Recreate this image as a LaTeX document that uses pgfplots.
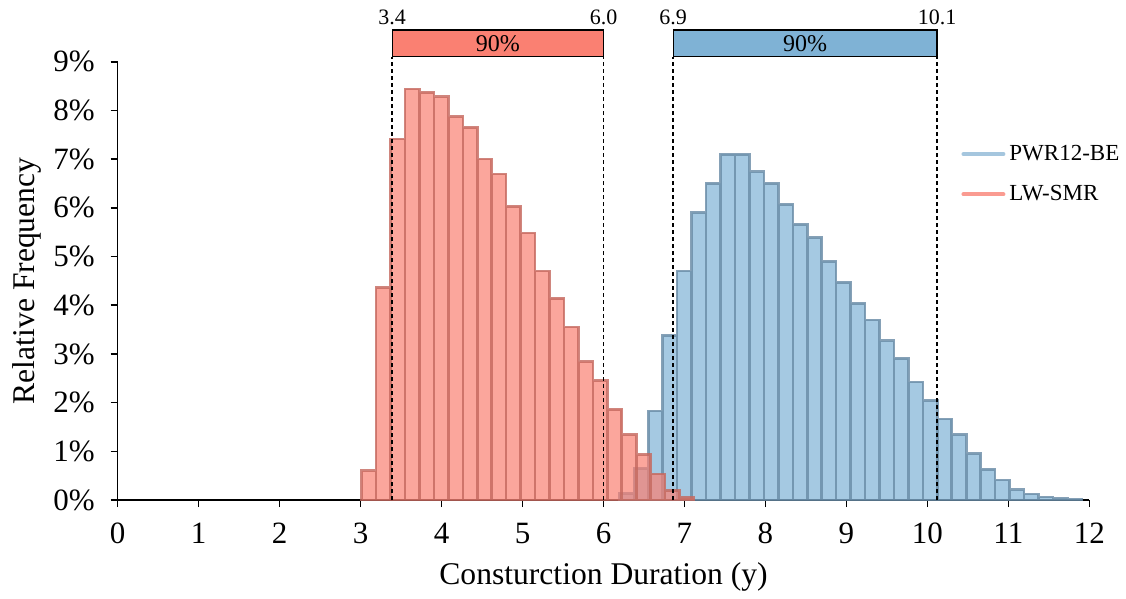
\documentclass[border=0pt]{standalone}
\usepackage{fontspec}
\setmainfont{Liberation Serif}
\usepackage{pgfplots}
\pgfplotsset{compat=1.18}
\definecolor{redfill}{RGB}{250,128,114}
\definecolor{rededge}{RGB}{196,104,94}
\definecolor{bluefill}{RGB}{127,178,213}
\definecolor{blueedge}{RGB}{104,138,165}
\definecolor{redleg}{RGB}{250,155,145}
\definecolor{blueleg}{RGB}{165,198,222}
\begin{document}
\begin{tikzpicture}
\begin{axis}[name=ax, scale only axis, width=485.8pt, height=219.15pt,
  xmin=0, xmax=12, ymin=0, ymax=9,
  axis x line*=bottom, axis y line*=left,
  axis line style={-, line width=0.8pt},
  xtick={0,1,2,3,4,5,6,7,8,9,10,11,12},
  xticklabels={0,1,2,3,4,5,6,7,8,9,10,11,12},
  ytick={0,1,2,3,4,5,6,7,8,9},
  yticklabels={0\%,1\%,2\%,3\%,4\%,5\%,6\%,7\%,8\%,9\%},
  tick align=outside, major tick length=3.5pt,
  tick style={black, line width=0.8pt},
  ticklabel style={font=\fontsize{15.5}{15.5}\selectfont},
  xticklabel style={yshift=-4.5pt},
  yticklabel style={xshift=-4.5pt},
  xlabel={Consturction Duration (y)}, ylabel={Relative Frequency},
  label style={font=\fontsize{15.8}{15.8}\selectfont},
  x label style={at={(axis description cs:0.5,-0.1757)}, anchor=center},
  y label style={at={(axis description cs:-0.0934,0.5)}, anchor=center},
  clip=false,
  legend style={at={(0.868,0.82)}, anchor=north west, draw=none, fill=none,
    font=\fontsize{11.5}{11.5}\selectfont, row sep=7pt, inner sep=0pt},
  legend cell align=left,
  legend image code/.code={\draw[#1, line width=2pt, line cap=round] (0pt,0pt) -- (20pt,0pt);},
]
\addplot[ybar interval, fill=bluefill, fill opacity=0.7, draw=blueedge, draw opacity=0.8, line width=1.3pt, forget plot] coordinates {
(6.196,0.13) (6.3745,0.65) (6.553,1.83) (6.7315,3.38) (6.910,4.70) (7.0885,5.90)
(7.267,6.50) (7.4455,7.10) (7.624,7.10) (7.8025,6.74) (7.981,6.50) (8.1595,6.07)
(8.338,5.66) (8.5165,5.39) (8.695,4.90) (8.8735,4.47) (9.052,4.04) (9.2305,3.70)
(9.409,3.27) (9.5875,2.91) (9.766,2.42) (9.9445,2.04) (10.123,1.66) (10.3015,1.34)
(10.480,0.95) (10.6585,0.63) (10.837,0.41) (11.0155,0.21) (11.194,0.12) (11.3725,0.06)
(11.551,0.035) (11.7295,0.02) (11.908,0)};
\addplot[ybar interval, fill=redfill, fill opacity=0.7, draw=rededge, draw opacity=0.8, line width=1.3pt, forget plot] coordinates {
(3.013,0.60) (3.1915,4.36) (3.370,7.41) (3.5485,8.44) (3.727,8.37) (3.9055,8.28)
(4.084,7.87) (4.2625,7.65) (4.441,7.00) (4.6195,6.69) (4.798,6.03) (4.9765,5.48)
(5.155,4.70) (5.3335,4.14) (5.512,3.55) (5.6905,2.84) (5.869,2.45) (6.0475,1.86)
(6.226,1.34) (6.4045,0.93) (6.583,0.53) (6.7615,0.19) (6.940,0.05) (7.1185,0)};
\addlegendimage{draw=blueleg}
\addlegendentry{PWR12-BE}
\addlegendimage{draw=redleg}
\addlegendentry{LW-SMR}
% 90% interval markers
\draw[dash pattern=on 2pt off 1.5pt, line width=0.9pt] (axis cs:3.39,0) -- (axis cs:3.39,9.1);
\draw[dash pattern=on 2pt off 1.5pt, line width=0.9pt] (axis cs:6.0,0) -- (axis cs:6.0,9.1);
\draw[dash pattern=on 2pt off 1.5pt, line width=0.9pt] (axis cs:6.86,0) -- (axis cs:6.86,9.1);
\draw[dash pattern=on 2pt off 1.5pt, line width=0.9pt] (axis cs:10.12,0) -- (axis cs:10.12,9.1);
\draw[fill=redfill, line width=0.6pt] (axis cs:3.39,9.1) rectangle (axis cs:6.0,9.65);
\draw[fill=bluefill, line width=0.6pt] (axis cs:6.86,9.1) rectangle (axis cs:10.12,9.65);
\node[font=\fontsize{12}{12}\selectfont] at (axis cs:4.695,9.375) {90\%};
\node[font=\fontsize{12}{12}\selectfont] at (axis cs:8.49,9.375) {90\%};
\node[above, inner sep=2.5pt, font=\fontsize{11}{11}\selectfont] at (axis cs:3.39,9.65) {3.4};
\node[above, inner sep=2.5pt, font=\fontsize{11}{11}\selectfont] at (axis cs:6.0,9.65) {6.0};
\node[above, inner sep=2.5pt, font=\fontsize{11}{11}\selectfont] at (axis cs:6.86,9.65) {6.9};
\node[above, inner sep=2.5pt, font=\fontsize{11}{11}\selectfont] at (axis cs:10.12,9.65) {10.1};
\end{axis}
\path ([xshift=-58.85pt,yshift=-48pt]ax.south west) rectangle ([xshift=18.35pt,yshift=30.85pt]ax.north east);
\end{tikzpicture}
\end{document}
